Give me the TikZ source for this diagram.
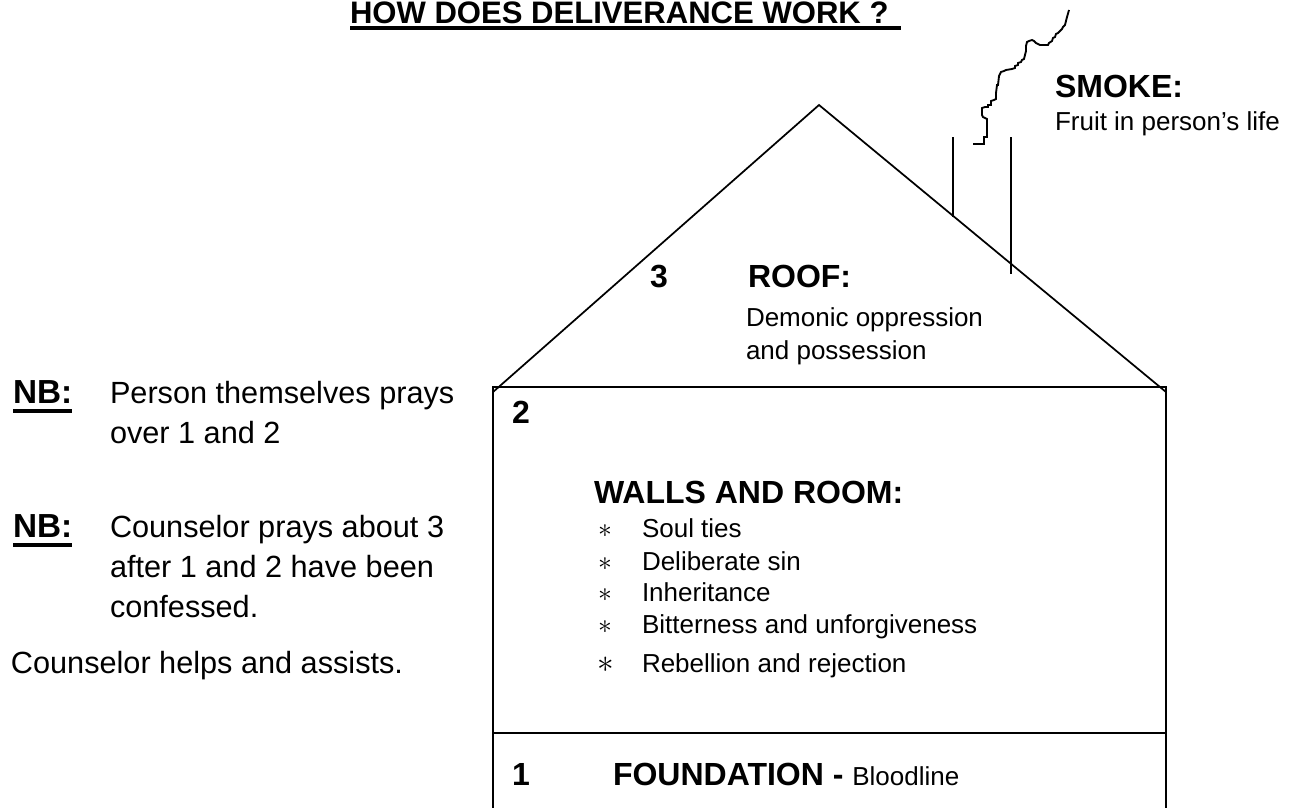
\documentclass[tikz,border=0pt]{standalone}
\usepackage{fontspec}
\setmainfont{Liberation Sans}
\usetikzlibrary{calc}
\begin{document}
\begin{tikzpicture}[x=0.75pt,y=-0.75pt,
  txt/.style={anchor=base west,inner sep=0pt,outer sep=0pt},
  titletxt/.style={txt,font=\bfseries\fontsize{23.3}{28}\selectfont},
  hdr/.style={txt,font=\bfseries\fontsize{24}{28}\selectfont},
  nbtxt/.style={txt,font=\bfseries\fontsize{25}{29}\selectfont},
  bodytxt/.style={txt,font=\fontsize{23}{27}\selectfont},
  smalltxt/.style={txt,font=\fontsize{19.5}{23}\selectfont},
  bul/.style={txt,font=\fontsize{19.5}{23}\selectfont},
  houseline/.style={line width=1.5pt,line cap=butt},
  roofline/.style={line width=1.3pt},
  smokeline/.style={line width=1.4pt,line join=miter}]
\useasboundingbox (0,0) rectangle (1296,807);

% title
\node[titletxt] (title) at (350,23) {HOW DOES DELIVERANCE WORK ?};
\coordinate (tulA) at (350,28);
\coordinate (tulB) at (901,28);
\draw[line width=3pt] (tulA) -- (tulB);

% house geometry
\coordinate (apex) at (819,105);
\coordinate (roofL) at (493,392);
\coordinate (roofR) at (1166,392);
\coordinate (boxTL) at (493,387);
\coordinate (boxTR) at (1166,387);
\coordinate (boxBL) at (493,812);
\coordinate (boxBR) at (1166,812);
\coordinate (divL) at (493,733);
\coordinate (divR) at (1166,733);

\draw[roofline] (roofL) -- (apex) -- (roofR);
\draw[houseline] (boxBL) -- (boxTL) -- (boxTR) -- (boxBR);
\draw[houseline] (divL) -- (divR);

% chimney
\coordinate (chLt) at (953,137);
\coordinate (chLb) at (953,217);
\coordinate (chRt) at (1011,137);
\coordinate (chRb) at (1011,274);
\draw[roofline] (chLt) -- (chLb);
\draw[roofline] (chRt) -- (chRb);

% smoke
\coordinate (smk0) at (973,144);
\coordinate (smk1) at (1069,10);
\draw[smokeline] (smk0) -- (984,144) -- (984,137) -- (987,137) -- (987,119) -- (983,117) -- (982,115) -- (982,108) -- (985,107) -- (988,107) -- (988,105) -- (991,105) -- (991,101) -- (994,100) -- (996,99) -- (996,93) -- (997,85) -- (998,85) -- (999,76) -- (1001,72) -- (1004,71) -- (1006,70) -- (1012,69) -- (1015,68) -- (1015,66) -- (1018,65) -- (1018,63) -- (1021,62) -- (1022,60) -- (1024,59) -- (1025,55) -- (1026,51) -- (1026,46) -- (1027,42) -- (1029,41) -- (1032,40) -- (1034,41) -- (1036,43) -- (1040,45) -- (1048,45) -- (1049,43) -- (1052,41) -- (1053,38) -- (1055,37) -- (1056,34) -- (1058,33) -- (1060,31) -- (1062,29) -- (1063,27) -- (1065,25) -- (1066,21) -- (1067,17) -- (smk1);

% smoke text
\node[hdr] (smoke) at (1055,97) {SMOKE:};
\node[smalltxt] (fruit) at (1055,130) {Fruit in person’s life};

% roof text
\node[hdr] (n3) at (650,287) {3};
\node[hdr] (roof) at (748,287) {ROOF:};
\node[smalltxt] (roof2) at (746,326) {Demonic oppression};
\node[smalltxt] (roof3) at (746,359) {and possession};

% walls
\node[hdr] (n2) at (512,423) {2};
\node[hdr] (walls) at (594,503) {WALLS AND ROOM:};
\node[bul] (b1) at (598,537) {$\ast$};
\node[smalltxt] (t1) at (642,537) {Soul ties};
\node[bul] (b2) at (598,570) {$\ast$};
\node[smalltxt] (t2) at (642,570) {Deliberate sin};
\node[bul] (b3) at (598,601) {$\ast$};
\node[smalltxt] (t3) at (642,601) {Inheritance};
\node[bul] (b4) at (598,633) {$\ast$};
\node[smalltxt] (t4) at (642,633) {Bitterness and unforgiveness};
\node[bul,font=\fontsize{23}{27}\selectfont] (b5) at (597,672) {$\ast$};
\node[smalltxt] (t5) at (642,672) {Rebellion and rejection};

% foundation
\node[hdr] (n1) at (512,785) {1};
\node[hdr] (found) at (613,785) {FOUNDATION - {\mdseries\fontsize{19.5}{23}\selectfont Bloodline}};

% left notes
\node[nbtxt] (nb1) at (13,403) {NB:};
\draw[line width=2.4pt] ($(nb1.base west)+(0,8)$) -- ($(nb1.base east)+(0,8)$);
\node[bodytxt] (p1) at (110,403) {Person themselves prays};
\node[bodytxt] (p2) at (110,443) {over 1 and 2};
\node[nbtxt] (nb2) at (13,537) {NB:};
\draw[line width=2.4pt] ($(nb2.base west)+(0,8)$) -- ($(nb2.base east)+(0,8)$);
\node[bodytxt] (c1) at (110,537) {Counselor prays about 3};
\node[bodytxt] (c2) at (110,577) {after 1 and 2 have been};
\node[bodytxt] (c3) at (110,617) {confessed.};
\node[bodytxt] (help) at (11,673) {Counselor helps and assists.};
\end{tikzpicture}
\end{document}
